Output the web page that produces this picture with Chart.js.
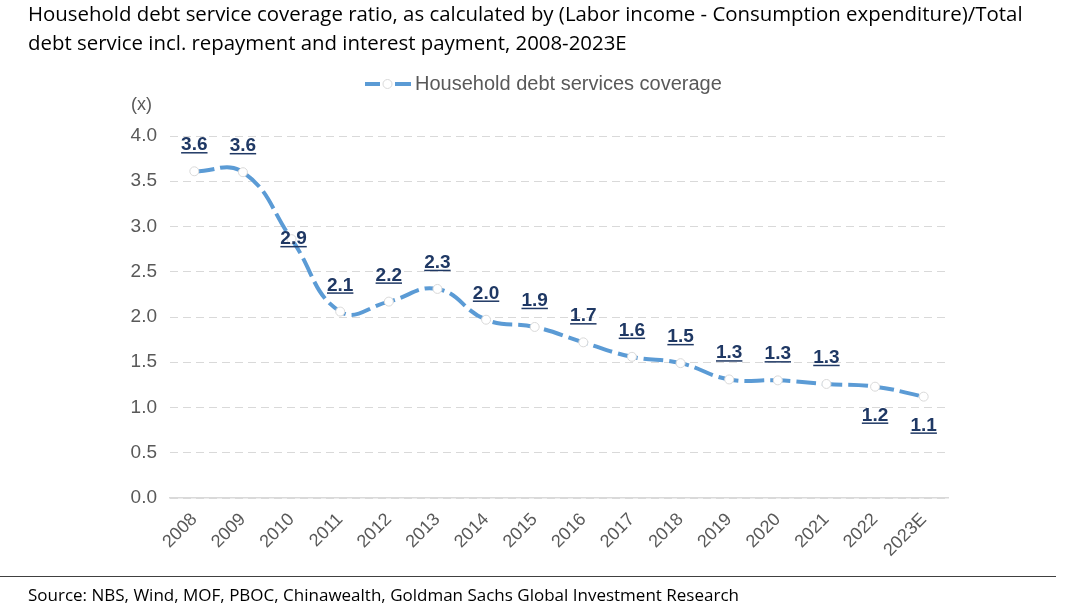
<!DOCTYPE html>
<html>
<head>
<meta charset="utf-8">
<script src="https://cdn.jsdelivr.net/npm/chart.js@4.4.0/dist/chart.umd.min.js"></script>
<style>
  html, body { margin: 0; padding: 0; background: #fff; }
  #wrap { position: relative; width: 1066px; height: 614px; overflow: hidden; }
  #chart { position: absolute; left: 0; top: 0; }
  .title { position: absolute; left: 28px; top: -1px; font-family: "Open Sans", sans-serif; font-size: 20.4px; line-height: 29px; color: #000; white-space: nowrap; }
  .rule { position: absolute; left: 0; top: 576px; width: 1056px; height: 0; border-top: 1.5px solid #404040; }
  .source { position: absolute; left: 28px; top: 583px; font-family: "Open Sans", sans-serif; font-size: 17px; color: #000; }
</style>
</head>
<body>
<div id="wrap">
  <canvas id="chart" width="1066" height="614"></canvas>
  <div class="title">Household debt service coverage ratio, as calculated by (Labor income - Consumption expenditure)/Total<br>debt service incl. repayment and interest payment, 2008-2023E</div>
  <div class="rule"></div>
  <div class="source">Source: NBS, Wind, MOF, PBOC, Chinawealth, Goldman Sachs Global Investment Research</div>
</div>
<script>
var years = ['2008', '2009', '2010', '2011', '2012', '2013', '2014', '2015',
             '2016', '2017', '2018', '2019', '2020', '2021', '2022', '2023E'];
var coverage = [3.61, 3.60, 2.86, 2.06, 2.17, 2.31, 1.97, 1.89,
                1.72, 1.56, 1.49, 1.31, 1.30, 1.26, 1.23, 1.12];
var yTicks = [0, 0.5, 1.0, 1.5, 2.0, 2.5, 3.0, 3.5, 4.0];
var seriesName = 'Household debt services coverage';
// where each value label sits relative to its point
var labelPos = ['up', 'up', 'mid', 'up', 'up', 'up', 'up', 'up',
                'up', 'up', 'up', 'up', 'up', 'up', 'down', 'down'];

var lineBlue = '#5b9bd5';
var greyText = '#595959';
var labelNavy = '#1f3864';
var arial = '"Liberation Sans", Arial, sans-serif';

var extras = {
    id: 'extras',
    afterDatasetsDraw: function (chart) {
        var ctx = chart.ctx;
        var meta = chart.getDatasetMeta(0);
        ctx.save();
        // value labels, bold + underlined
        ctx.font = 'bold 19px ' + arial;
        ctx.fillStyle = labelNavy;
        ctx.strokeStyle = labelNavy;
        ctx.lineWidth = 1.5;
        ctx.textAlign = 'center';
        ctx.textBaseline = 'alphabetic';
        meta.data.forEach(function (pt, i) {
            var txt = coverage[i].toFixed(1);
            var x = pt.x, y = pt.y;
            if (labelPos[i] === 'up') y -= 28;
            else if (labelPos[i] === 'down') y += 27;
            else { x += 2; y -= 2; }
            ctx.fillText(txt, x, y + 7);
            var w = ctx.measureText(txt).width;
            ctx.beginPath();
            ctx.moveTo(x - w / 2, y + 9.5);
            ctx.lineTo(x + w / 2, y + 9.5);
            ctx.stroke();
        });
        // unit label
        ctx.font = '18px ' + arial;
        ctx.fillStyle = greyText;
        ctx.textAlign = 'left';
        ctx.textBaseline = 'middle';
        ctx.fillText('(x)', 131, 105);
        // legend
        var lx = 365, ly = 84;
        ctx.strokeStyle = lineBlue;
        ctx.lineWidth = 4;
        ctx.beginPath();
        ctx.moveTo(lx, ly); ctx.lineTo(lx + 15, ly);
        ctx.moveTo(lx + 30, ly); ctx.lineTo(lx + 46, ly);
        ctx.stroke();
        ctx.beginPath();
        ctx.arc(lx + 22.5, ly, 4.5, 0, Math.PI * 2);
        ctx.fillStyle = '#fff';
        ctx.fill();
        ctx.lineWidth = 1;
        ctx.strokeStyle = '#d9d9d9';
        ctx.stroke();
        ctx.font = '20px ' + arial;
        ctx.fillStyle = greyText;
        ctx.fillText(seriesName, lx + 50, ly);
        ctx.restore();
    }
};

new Chart(document.getElementById('chart'), {
    type: 'line',
    data: {
        labels: years,
        datasets: [{
            label: seriesName,
            data: coverage,
            borderColor: lineBlue,
            borderWidth: 4,
            borderDash: [20, 6],
            tension: 0.45,
            pointRadius: 4.5,
            pointBackgroundColor: '#fff',
            pointBorderColor: '#d9d9d9',
            pointBorderWidth: 1
        }]
    },
    options: {
        responsive: false,
        animation: false,
        layout: { padding: { top: 136, right: 118, left: 0, bottom: 0 } },
        plugins: {
            legend: { display: false },
            tooltip: { enabled: false }
        },
        scales: {
            x: {
                offset: true,
                grid: { display: false, drawTicks: false },
                border: { display: true, color: '#d9d9d9', width: 1.5 },
                ticks: {
                    autoSkip: false,
                    minRotation: 45,
                    maxRotation: 45,
                    padding: 11,
                    color: greyText,
                    font: { family: arial, size: 18 }
                },
                afterFit: function (s) { s.height = 116; }
            },
            y: {
                min: 0,
                max: 4,
                afterBuildTicks: function (s) {
                    s.ticks = yTicks.map(function (v) { return { value: v }; });
                },
                grid: { color: '#d9d9d9', drawTicks: false, lineWidth: 1 },
                border: { display: false, dash: [8, 5] },
                ticks: {
                    padding: 13,
                    color: greyText,
                    font: { family: arial, size: 19 },
                    callback: function (v) { return v.toFixed(1); }
                },
                afterFit: function (s) { s.width = 170; }
            }
        }
    },
    plugins: [extras]
});
</script>
</body>
</html>
